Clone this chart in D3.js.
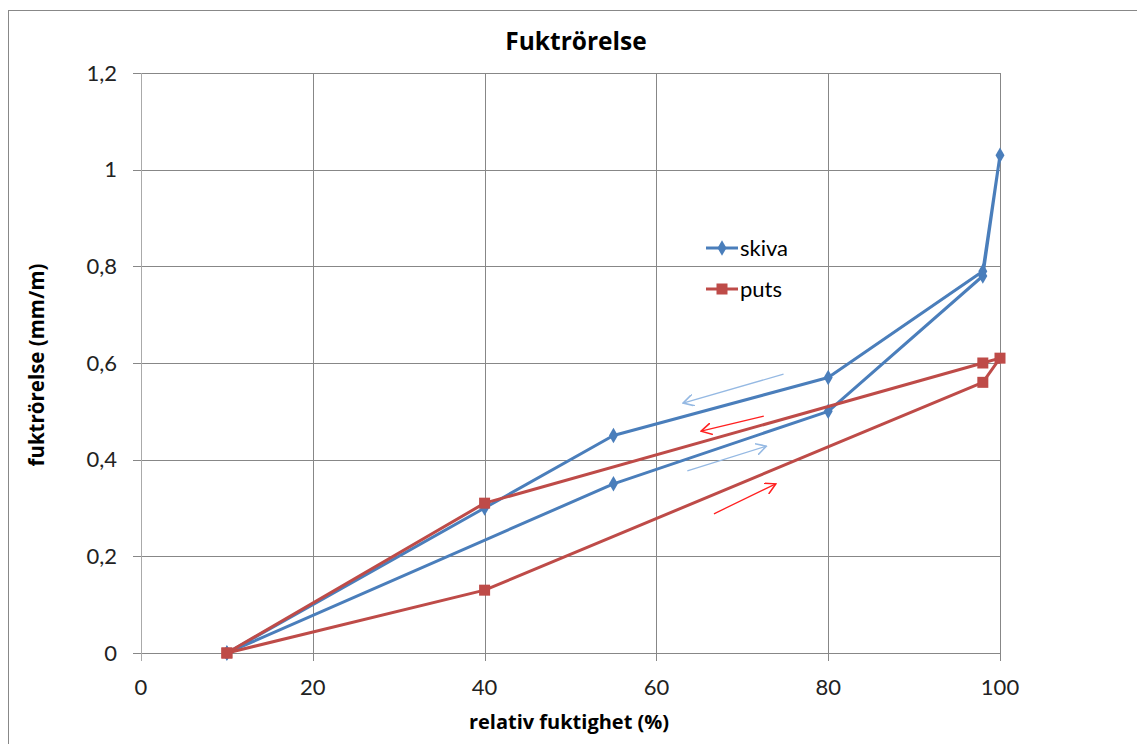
<!DOCTYPE html>
<html>
<head>
<meta charset="utf-8">
<script src="https://cdn.jsdelivr.net/npm/d3@7"></script>
<style>
  body { margin: 0; background: #fff; }
  svg { display: block; font-family: Lato, "Open Sans", sans-serif; }
  .bold { font-family: "Open Sans", Lato, sans-serif; font-weight: bold; }
</style>
</head>
<body>
<svg id="chart" width="1137" height="744"></svg>
<script>
// data
const skivaX = [10, 55, 80, 98, 100, 98, 80, 55, 40, 10];
const skivaY = [0, 0.35, 0.50, 0.78, 1.03, 0.79, 0.57, 0.45, 0.30, 0];
const putsX = [10, 40, 98, 100, 98, 40, 10];
const putsY = [0, 0.13, 0.56, 0.61, 0.60, 0.31, 0];
const xTicks = [0, 20, 40, 60, 80, 100];
const yTicks = [0, 0.2, 0.4, 0.6, 0.8, 1, 1.2];
// direction arrows [x1, y1, x2, y2]
const arrowsBlue = [[74.8, 0.577, 63.1, 0.517], [63.6, 0.377, 72.8, 0.428]];
const arrowsRed = [[72.5, 0.49, 65.2, 0.459], [66.7, 0.288, 73.9, 0.35]];

const blue = '#4a7ebb', red = '#be4b48';
const svg = d3.select('#chart');

// outer chart frame
svg.append('rect').attr('x', 8.5).attr('y', 10.5).attr('width', 1140).attr('height', 740)
    .attr('fill', 'none').attr('stroke', '#888').attr('stroke-width', 1);

const x = d3.scaleLinear().domain([0, 100]).range([141, 1000]);
const y = d3.scaleLinear().domain([0, 1.2]).range([653, 73]);
const fmt = d => d3.format('')(d).replace('.', ',');

// gridlines
svg.append('g').selectAll('line').data(yTicks).join('line')
    .attr('x1', x(0) - 8).attr('x2', x(100))
    .attr('y1', d => Math.round(y(d)) + 0.5).attr('y2', d => Math.round(y(d)) + 0.5)
    .attr('stroke', '#878787');
svg.append('g').selectAll('line').data(xTicks).join('line')
    .attr('x1', d => Math.round(x(d)) + 0.5).attr('x2', d => Math.round(x(d)) + 0.5)
    .attr('y1', y(1.2)).attr('y2', y(0) + 8)
    .attr('stroke', d => d == 0 ? '#aaa' : '#878787');

// tick labels
svg.append('g').selectAll('text').data(yTicks).join('text')
    .attr('x', 117).attr('y', d => y(d)).attr('dy', '0.35em')
    .attr('text-anchor', 'end').attr('font-size', 22).attr('fill', '#222')
    .text(fmt);
svg.append('g').selectAll('text').data(xTicks).join('text')
    .attr('x', d => x(d)).attr('y', 695)
    .attr('text-anchor', 'middle').attr('font-size', 22).attr('fill', '#222')
    .text(fmt);

// titles
svg.append('text').attr('class', 'bold').attr('x', 576).attr('y', 50).attr('text-anchor', 'middle')
    .attr('font-size', 24.5).text('Fuktrörelse');
svg.append('text').attr('class', 'bold').attr('x', 569).attr('y', 729).attr('text-anchor', 'middle')
    .attr('font-size', 20).text('relativ fuktighet (%)');
svg.append('text').attr('class', 'bold').attr('transform', 'translate(44,365) rotate(-90)')
    .attr('text-anchor', 'middle').attr('font-size', 20.5).text('fuktrörelse (mm/m)');

// arrows
const defs = svg.append('defs');
[['arrBlue', '#95b9e3'], ['arrRed', '#ff2020']].forEach(([id, c]) => {
    defs.append('marker').attr('id', id).attr('viewBox', '0 0 10 10')
        .attr('refX', 9).attr('refY', 5).attr('markerWidth', 12).attr('markerHeight', 12)
        .attr('markerUnits', 'userSpaceOnUse').attr('orient', 'auto')
        .append('path').attr('d', 'M0,0 L9,5 L0,10').attr('fill', 'none')
        .attr('stroke', c).attr('stroke-width', 1.3);
});
function drawArrows(data, c, id) {
    svg.append('g').selectAll('line').data(data).join('line')
        .attr('x1', d => x(d[0])).attr('y1', d => y(d[1]))
        .attr('x2', d => x(d[2])).attr('y2', d => y(d[3]))
        .attr('stroke', c).attr('stroke-width', 1.3)
        .attr('marker-end', `url(#${id})`);
}
drawArrows(arrowsBlue, '#95b9e3', 'arrBlue');
drawArrows(arrowsRed, '#ff2020', 'arrRed');

// series
const line = d3.line().x(d => x(d[0])).y(d => y(d[1]));
const diamond = d3.symbol().type(d3.symbolDiamond).size(70);
function drawSeries(xs, ys, c, markerFn) {
    const pts = xs.map((v, i) => [v, ys[i]]);
    svg.append('path').datum(pts).attr('d', line).attr('fill', 'none')
        .attr('stroke', c).attr('stroke-width', 3).attr('stroke-linejoin', 'round');
    markerFn(svg.append('g').selectAll('g').data(pts).join('g'));
}
drawSeries(skivaX, skivaY, blue, g => g.append('path')
    .attr('transform', d => `translate(${x(d[0])},${y(d[1])})`)
    .attr('d', diamond).attr('fill', blue));
drawSeries(putsX, putsY, red, g => g.append('rect')
    .attr('x', d => x(d[0]) - 5.5).attr('y', d => y(d[1]) - 5.5)
    .attr('width', 11).attr('height', 11).attr('fill', red));

// legend
const legend = [['skiva', blue, 'd'], ['puts', red, 's']];
const lg = svg.append('g').selectAll('g').data(legend).join('g')
    .attr('transform', (d, i) => `translate(706,${248 + i * 41})`);
lg.append('line').attr('x1', 0).attr('x2', 32).attr('stroke', d => d[1]).attr('stroke-width', 3);
lg.filter(d => d[2] == 'd').append('path').attr('transform', 'translate(16,0)')
    .attr('d', diamond).attr('fill', blue);
lg.filter(d => d[2] == 's').append('rect').attr('x', 10.5).attr('y', -5.5)
    .attr('width', 11).attr('height', 11).attr('fill', red);
lg.append('text').attr('x', 34).attr('dy', '0.35em').attr('font-size', 22).text(d => d[0]);
</script>
</body>
</html>
